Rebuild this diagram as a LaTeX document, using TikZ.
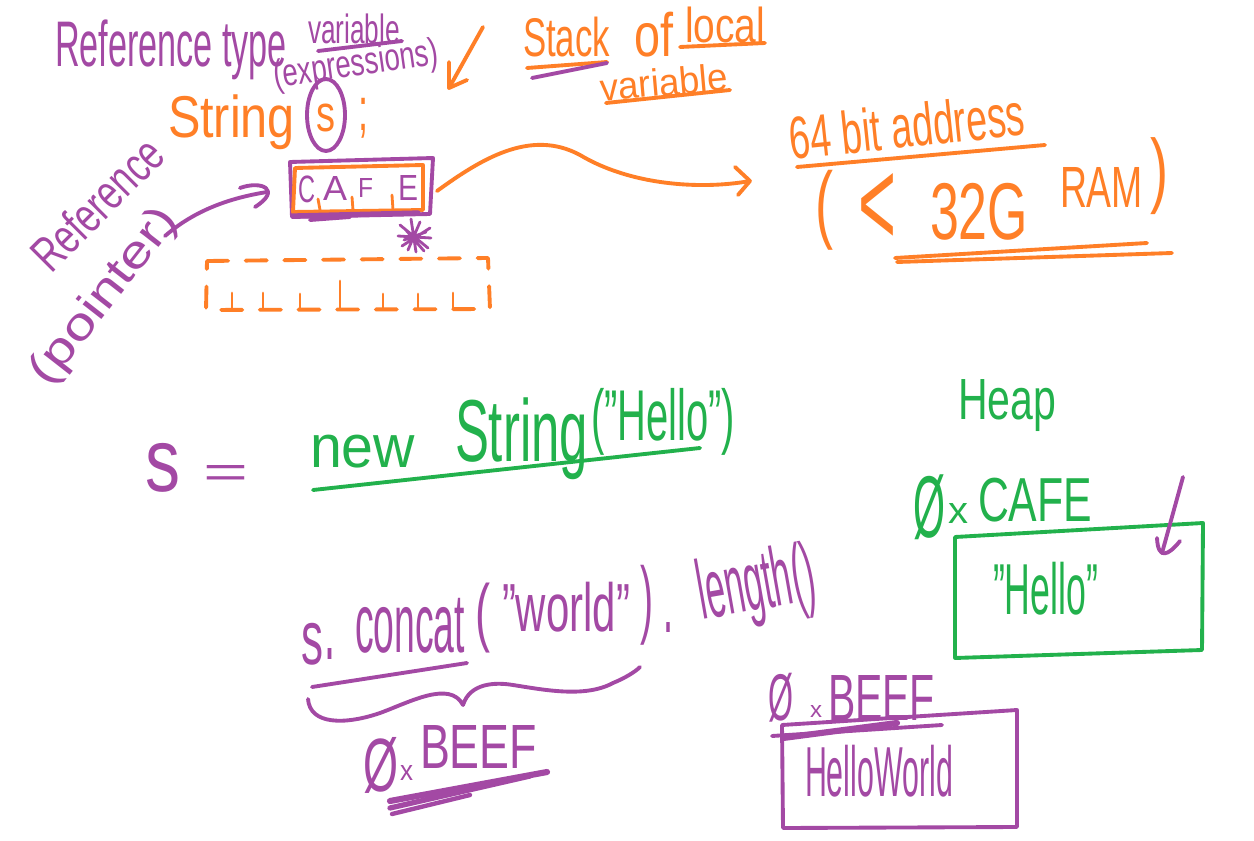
\documentclass[tikz,border=0pt]{standalone}
\usepackage{fontspec}
\setmainfont{Liberation Sans}
\usepackage{graphicx}
\definecolor{pur}{HTML}{A349A4}
\definecolor{org}{HTML}{FF7F27}
\definecolor{grn}{HTML}{22B14C}
\newlength\pxu
\setlength\pxu{0.02cm}
\newcommand\fitt[3]{\resizebox*{#1\pxu}{#2\pxu}{#3}}
% name, x, y (top-left), width, height, colour, text
\newcommand\T[7]{\node[lbl,text=#6] (#1) at (#2,#3) {\fitt{#4}{#5}{#7}};}
\begin{document}
\begin{tikzpicture}[x=0.02cm,y=-0.02cm,
  hand/.style={line width=2.2pt,line cap=round,line join=round},
  thin hand/.style={line width=1.6pt,line cap=round,line join=round},
  lbl/.style={inner sep=0pt,outer sep=0pt,anchor=north west},
  rlbl/.style={inner sep=0pt,outer sep=0pt,anchor=center}]
\fill[white] (0,0) rectangle (1254,841);
\useasboundingbox (0,0) rectangle (1254,841);

% ---------- top left labels ----------
\T{reftype}{55}{20}{232}{60}{pur}{Reference type}
\T{variable1}{308}{14}{92}{30}{pur}{variable}
\draw[hand,pur] (318,51) -- (402,41);
\node[rlbl,text=pur,rotate=8] (expr) at (356,66) {\fitt{166}{36}{(expressions)}};

% orange arrow down to s
\coordinate (ar1s) at (483,27);
\coordinate (ar1e) at (449,88);
\draw[hand,org] (ar1s) -- (ar1e);
\draw[hand,org] (449,62) -- (ar1e) -- (467,80);

% Stack of local variable
\T{stack}{523}{17}{87}{40}{org}{Stack}
\T{of}{634}{12}{39}{45}{org}{of}
\T{local}{685}{7}{80}{36}{org}{local}
\node[rlbl,text=org,rotate=5] (variable2) at (664,82) {\fitt{128}{28}{variable}};
\draw[hand,org] (527,68) -- (607,62);
\draw[hand,pur] (532,78) -- (607,63);
\draw[hand,org] (680,47) -- (765,43);
\draw[hand,org] (606,103) -- (730,90);

% String s;
\T{string1}{168}{95}{127}{55}{org}{String}
\T{svar}{316}{104}{19}{28}{org}{s}
\T{semi}{358}{98}{10}{40}{org}{;}
\draw[hand,pur] (326,115) ellipse [x radius=0.38cm, y radius=0.72cm];

% CAFE box (stack slot)
\draw[hand,pur] (290,162) -- (433,158) -- (430,214) -- (292,217) -- cycle;
\draw[hand,org] (295,168) -- (423,165) -- (423,210) -- (293,212) -- cycle;
\T{c1}{298}{176}{17}{27}{pur}{C}
\T{a1}{323}{177}{24}{24}{pur}{A}
\T{f1}{358}{179}{15}{19}{pur}{F}
\T{e1}{398}{176}{20}{25}{pur}{E}
\draw[thin hand,org] (318,199) -- (320,210);
\draw[thin hand,org] (352,197) -- (353,210);
\draw[thin hand,org] (392,195) -- (393,210);
\draw[hand,pur,line width=3pt] (293,216) -- (418,213);
\draw[hand,pur] (310,220) -- (350,217);
% scribble
\draw[thin hand,pur] (400,225) -- (428,248) (402,246) -- (430,228) (411,219) -- (416,252)
  (398,236) -- (431,238) (405,229) -- (424,251) (420,222) -- (408,250) (404,240) -- (426,232);

% dashed box
\draw[hand,org,dash pattern=on 12pt off 10pt] (207,261) -- (488,258) -- (490,309) -- (206,310) -- cycle;
\foreach \xx/\yy in {232/293,263/293,300/294,340/281,383/294,418/294,453/293}
  \draw[thin hand,org] (\xx,\yy) -- (\xx,309);

% Reference (pointer)
\node[rlbl,text=pur,rotate=45] (refer) at (97,204) {\fitt{165}{36}{Reference}};
\node[rlbl,text=pur,rotate=52] (pointer) at (105,297) {\fitt{212}{42}{(pointer)}};
\coordinate (pa1) at (165,236);
\coordinate (pa2) at (267,192);
\draw[hand,pur] (pa1) .. controls (195,210) and (230,198) .. (pa2);
\draw[hand,pur] (240,188) .. controls (262,180) and (282,190) .. (255,207);

% orange arrow to 64 bit address
\coordinate (oa1) at (437,191);
\coordinate (oa2) at (750,181);
\draw[hand,org] (oa1) .. controls (480,160) and (530,128) .. (580,155)
  .. controls (630,185) and (700,190) .. (oa2);
\draw[hand,org] (735,167) -- (oa2) -- (738,195);

% 64 bit address (< 32G RAM)
\node[rlbl,text=org,rotate=6] (addr) at (907,126) {\fitt{236}{44}{64 bit address}};
\draw[hand,org] (797,167) -- (1045,145);
\T{lp1}{815}{170}{18}{80}{org}{(}
\T{lt}{858}{173}{38}{72}{org}{<}
\T{g32}{930}{183}{98}{57}{org}{32G}
\T{ram}{1060}{167}{83}{40}{org}{RAM}
\T{rp1}{1150}{138}{18}{77}{org}{)}
\draw[hand,org] (895,258) -- (1147,243);
\draw[hand,org] (897,262) -- (1172,253);

% s = new String("Hello")
\T{s2}{145}{443}{35}{49}{pur}{s}
\T{eq}{203}{465}{45}{22}{pur}{=}
\T{new}{310}{435}{105}{33}{grn}{new}
\T{string2}{455}{398}{133}{82}{grn}{String}
\T{hello1}{591}{388}{144}{67}{grn}{("Hello")}
\draw[hand,grn] (313,490) -- (700,448);

% Heap
\T{heap}{958}{380}{98}{52}{grn}{Heap}
\T{zero1}{913}{475}{32}{65}{grn}{Ø}
\T{x1}{948}{503}{20}{20}{grn}{x}
\T{cafe}{978}{478}{114}{44}{grn}{CAFE}
\draw[hand,grn] (955,537) -- (1203,523) -- (1202,650) -- (955,658) -- cycle;
\T{hello2}{993}{562}{105}{53}{grn}{"Hello"}
\coordinate (pb1) at (1183,477);
\coordinate (pb2) at (1162,553);
\draw[hand,pur] (pb1) -- (pb2);
\draw[hand,pur] (1157,538) .. controls (1158,560) and (1168,556) .. (1180,541);

% s.concat("world").length()
\T{s3}{301}{623}{22}{42}{pur}{s}
\T{dot1}{324}{648}{11}{11}{pur}{.}
\T{concat}{355}{598}{110}{55}{pur}{concat}
\T{lp2}{475}{583}{15}{70}{pur}{(}
\T{world}{502}{582}{128}{50}{pur}{"world"}
\T{rp2}{640}{565}{13}{80}{pur}{)}
\T{dot2}{663}{622}{10}{10}{pur}{.}
\node[rlbl,text=pur,rotate=10] (length) at (757,588) {\fitt{118}{78}{length()}};
\draw[hand,pur] (312,687) -- (467,663);
\draw[hand,pur] (308,699) .. controls (310,725) and (345,725) .. (380,713)
  .. controls (410,702) and (450,680) .. (463,705)
  .. controls (470,683) and (495,682) .. (513,685)
  .. controls (545,690) and (585,698) .. (613,683)
  .. controls (625,678) and (635,672) .. (640,667);

% 0xBEEF under brace
\T{zero2}{363}{737}{35}{56}{pur}{Ø}
\T{x2}{400}{765}{13}{15}{pur}{x}
\T{beef1}{420}{725}{117}{43}{pur}{BEEF}
\draw[hand,pur,line width=3.5pt] (390,801) -- (547,772);
\draw[hand,pur,line width=3pt] (390,808) -- (530,776);
\draw[hand,pur,line width=2.5pt] (392,814) -- (470,795);

% 0xBEEF box
\T{zero3}{768}{673}{25}{49}{pur}{Ø}
\T{x3}{810}{705}{12}{12}{pur}{x}
\T{beef2}{828}{675}{107}{45}{pur}{BEEF}
\draw[hand,pur] (772,736) -- (942,725);
\draw[hand,pur,line width=3.5pt] (783,738) -- (897,723);
\draw[hand,pur] (782,725) -- (1017,710) -- (1017,827) -- (783,828) -- cycle;
\T{hw}{805}{745}{148}{52}{pur}{HelloWorld}
\end{tikzpicture}
\end{document}
